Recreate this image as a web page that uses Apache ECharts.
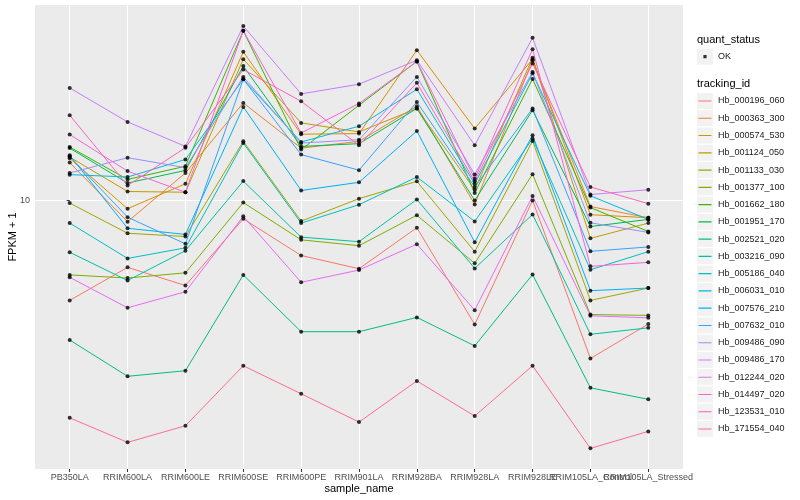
<!DOCTYPE html>
<html><head><meta charset="utf-8">
<script src="https://cdn.jsdelivr.net/npm/echarts@6/dist/echarts.min.js"></script>
<style>html,body{margin:0;padding:0;background:#fff}#c{width:800px;height:500px}</style>
</head><body><div id="c"></div>
<script>
const categories = ["PB350LA","RRIM600LA","RRIM600LE","RRIM600SE","RRIM600PE","RRIM901LA","RRIM928BA","RRIM928LA","RRIM928LE","RRIM105LA_Control","RRIM105LA_Stressed"];
const trackingIds = ["Hb_000196_060","Hb_000363_300","Hb_000574_530","Hb_001124_050","Hb_001133_030","Hb_001377_100","Hb_001662_180","Hb_001951_170","Hb_002521_020","Hb_003216_090","Hb_005186_040","Hb_006031_010","Hb_007576_210","Hb_007632_010","Hb_009486_090","Hb_009486_170","Hb_012244_020","Hb_014497_020","Hb_123531_010","Hb_171554_040"];
const yTickValues = [10];

const hb_000196_060 = [6.82, 7.74, 7.22, 9.32, 8.10, 7.70, 9.01, 6.22, 10.0, 5.46, 6.23];
const hb_000363_300 = [11.56, 9.22, 11.11, 14.53, 12.22, 12.54, 14.35, 9.85, 17.11, 9.77, 9.36];
const hb_000574_530 = [11.75, 9.69, 10.66, 17.67, 12.89, 12.92, 17.78, 13.17, 17.18, 9.47, 9.36];
const hb_001124_050 = [11.81, 10.35, 10.32, 17.18, 13.46, 13.00, 14.22, 10.42, 17.27, 8.65, 9.17];
const hb_001133_030 = [9.90, 8.82, 8.71, 12.54, 9.24, 10.07, 10.76, 8.22, 12.56, 6.82, 7.15];
const hb_001377_100 = [7.52, 7.43, 7.58, 9.92, 8.60, 8.41, 9.45, 7.86, 11.06, 6.46, 6.44];
const hb_001662_180 = [12.27, 10.84, 11.40, 19.15, 12.15, 14.40, 17.03, 10.29, 15.93, 9.73, 8.88];
const hb_001951_170 = [12.22, 10.69, 11.22, 16.73, 12.30, 12.43, 14.22, 10.0, 14.13, 9.05, 9.30];
const hb_002521_020 = [5.86, 5.10, 5.21, 7.52, 6.05, 6.05, 6.39, 5.73, 7.53, 4.88, 4.67];
const hb_003216_090 = [8.20, 7.36, 8.25, 10.77, 8.69, 8.54, 10.04, 7.71, 9.48, 5.99, 6.14];
const hb_005186_040 = [9.17, 8.01, 8.34, 12.46, 9.17, 9.84, 10.94, 9.23, 12.67, 7.67, 8.22];
const hb_006031_010 = [11.04, 10.94, 11.70, 15.91, 12.51, 13.29, 15.31, 10.66, 16.27, 10.18, 9.30];
const hb_007576_210 = [11.89, 8.99, 8.78, 14.31, 10.39, 10.72, 13.05, 8.52, 12.84, 7.08, 7.15];
const hb_007632_010 = [11.84, 9.38, 8.47, 15.91, 11.92, 11.23, 14.58, 10.53, 14.22, 8.23, 8.37];
const hb_009486_090 = [11.11, 11.78, 11.34, 16.05, 12.46, 12.62, 16.05, 11.05, 16.36, 9.18, 8.85];
const hb_009486_170 = [15.39, 13.51, 12.30, 19.50, 15.04, 15.61, 17.11, 12.35, 18.64, 10.23, 10.42];
const hb_012244_020 = [7.45, 6.63, 7.05, 9.41, 7.31, 7.66, 8.46, 6.57, 10.17, 6.43, 6.38];
const hb_014497_020 = [12.87, 11.19, 10.32, 19.15, 12.95, 14.50, 17.03, 10.87, 17.85, 7.77, 7.89];
const hb_123531_010 = [13.86, 10.59, 12.24, 16.51, 14.62, 12.35, 15.69, 10.76, 16.90, 10.53, 9.88];
const hb_171554_040 = [4.35, 3.96, 4.22, 5.31, 4.77, 4.28, 5.01, 4.38, 5.31, 3.87, 4.13];

const seriesValues = [hb_000196_060, hb_000363_300, hb_000574_530, hb_001124_050, hb_001133_030,
  hb_001377_100, hb_001662_180, hb_001951_170, hb_002521_020, hb_003216_090, hb_005186_040,
  hb_006031_010, hb_007576_210, hb_007632_010, hb_009486_090, hb_009486_170, hb_012244_020,
  hb_014497_020, hb_123531_010, hb_171554_040];

const colors = ["#F8766D","#EA8331","#D89000","#C09B00","#A3A500","#7CAE00","#39B600","#00BB4E","#00BF7D","#00C1A3","#00BFC4","#00BAE0","#00B0F6","#35A2FF","#9590FF","#C77CFF","#E76BF3","#FA62DB","#FF62BC","#FF6C91"];

const FONT = '"Liberation Sans", Arial, Helvetica, sans-serif';
const chart = echarts.init(document.getElementById('c'), null, {renderer: 'canvas', width: 800, height: 500});

const catIdx = categories.map((c, i) => i);
const evenIdx = catIdx.filter(i => i % 2 === 0);
const oddIdx = catIdx.filter(i => i % 2 === 1);

const lineSeries = trackingIds.map((id, k) => ({
  name: id, type: 'line',
  data: seriesValues[k].map((v, i) => [i, v]),
  symbol: 'none', showSymbol: false,
  lineStyle: {color: colors[k], width: 1},
  itemStyle: {color: colors[k]},
  silent: true, animation: false, z: 2
}));

const points = [];
seriesValues.forEach(arr => arr.forEach((v, i) => points.push([i, v])));
const pointSeries = {
  name: 'OK', type: 'scatter', data: points,
  symbol: 'circle', symbolSize: 4,
  itemStyle: {color: '#000'}, silent: true, animation: false, z: 3
};

const corner = 'M0,0h0.01v0.01h-0.01zM15.99,16.99h0.01v0.01h-0.01z';
const lineIcon = 'path://' + corner + 'M1.5,8h13v1.1h-13z';
const dotIcon = 'path://' + corner + 'M6.4,6.9h3.2v3.2h-3.2z';

const LEG_TOP = 92.5, STEP = 17.26;
const boxes = [{type: 'rect', shape: {x: 697, y: 48.7, width: 16, height: 16}, style: {fill: '#F2F2F2'}, z: -1, silent: true}];
trackingIds.forEach((id, i) => boxes.push({
  type: 'rect', shape: {x: 697, y: LEG_TOP + i * STEP + 0.5, width: 16, height: 16},
  style: {fill: '#F2F2F2'}, z: -1, silent: true
}));

const legendText = {fontSize: 9, color: '#1A1A1A', fontFamily: FONT};
const tickLabel = {fontSize: 9, color: '#4D4D4D', margin: 4, fontFamily: FONT, hideOverlap: false,
                   formatter: v => categories[Math.round(v)]};

chart.setOption({
  animation: false,
  textStyle: {fontFamily: FONT},
  grid: {left: 35, right: 117, top: 5, bottom: 31, show: true, backgroundColor: '#EBEBEB', borderWidth: 0,
         containLabel: false, outerBoundsMode: 'none'},
  xAxis: [{
    type: 'value', min: -0.6, max: 10.6, position: 'bottom',
    axisLine: {show: false},
    axisTick: {show: true, customValues: catIdx, length: 3, lineStyle: {color: '#333333', width: 1}},
    axisLabel: Object.assign({customValues: evenIdx}, tickLabel),
    splitLine: {show: true, lineStyle: {color: '#FFFFFF', width: 1}},
    name: 'sample_name', nameLocation: 'middle', nameGap: 14, nameMoveOverlap: false,
    nameTextStyle: {fontSize: 11, color: '#000', fontFamily: FONT}
  }, {
    type: 'value', min: -0.6, max: 10.6, position: 'bottom', offset: 0,
    axisLine: {show: false},
    axisTick: {show: false, customValues: oddIdx},
    axisLabel: Object.assign({customValues: oddIdx}, tickLabel),
    splitLine: {show: false}
  }],
  yAxis: {
    type: 'log', logBase: 10, min: 3.576, max: 21.14,
    axisLine: {show: false},
    axisTick: {show: true, customValues: yTickValues, length: 3, lineStyle: {color: '#333333', width: 1}},
    axisLabel: {customValues: yTickValues, fontSize: 9, color: '#4D4D4D', margin: 5, fontFamily: FONT},
    splitLine: {show: true, lineStyle: {color: '#FFFFFF', width: 1}},
    name: 'FPKM + 1', nameLocation: 'middle', nameGap: 17, nameRotate: 90, nameMoveOverlap: false,
    nameTextStyle: {fontSize: 11, color: '#000', fontFamily: FONT}
  },
  legend: [
    {data: ['OK'], orient: 'vertical', left: 697, top: 48.2, padding: 0, itemWidth: 16, itemHeight: 17,
     icon: dotIcon, selectedMode: false, textStyle: legendText, itemStyle: {borderWidth: 0}},
    {data: trackingIds.map((id, k) => ({name: id, itemStyle: {color: colors[k], borderWidth: 0}})),
     orient: 'vertical', left: 697, top: LEG_TOP, padding: 0, itemWidth: 16, itemHeight: 17, itemGap: 0.26,
     icon: lineIcon, selectedMode: false, textStyle: legendText}
  ],
  graphic: boxes.concat([
    {type: 'text', x: 697, y: 40, style: {text: 'quant_status', fontSize: 11, fill: '#000', fontFamily: FONT, verticalAlign: 'middle'}, silent: true},
    {type: 'text', x: 697, y: 84.3, style: {text: 'tracking_id', fontSize: 11, fill: '#000', fontFamily: FONT, verticalAlign: 'middle'}, silent: true}
  ]),
  series: lineSeries.concat([pointSeries])
});
</script>
</body></html>
